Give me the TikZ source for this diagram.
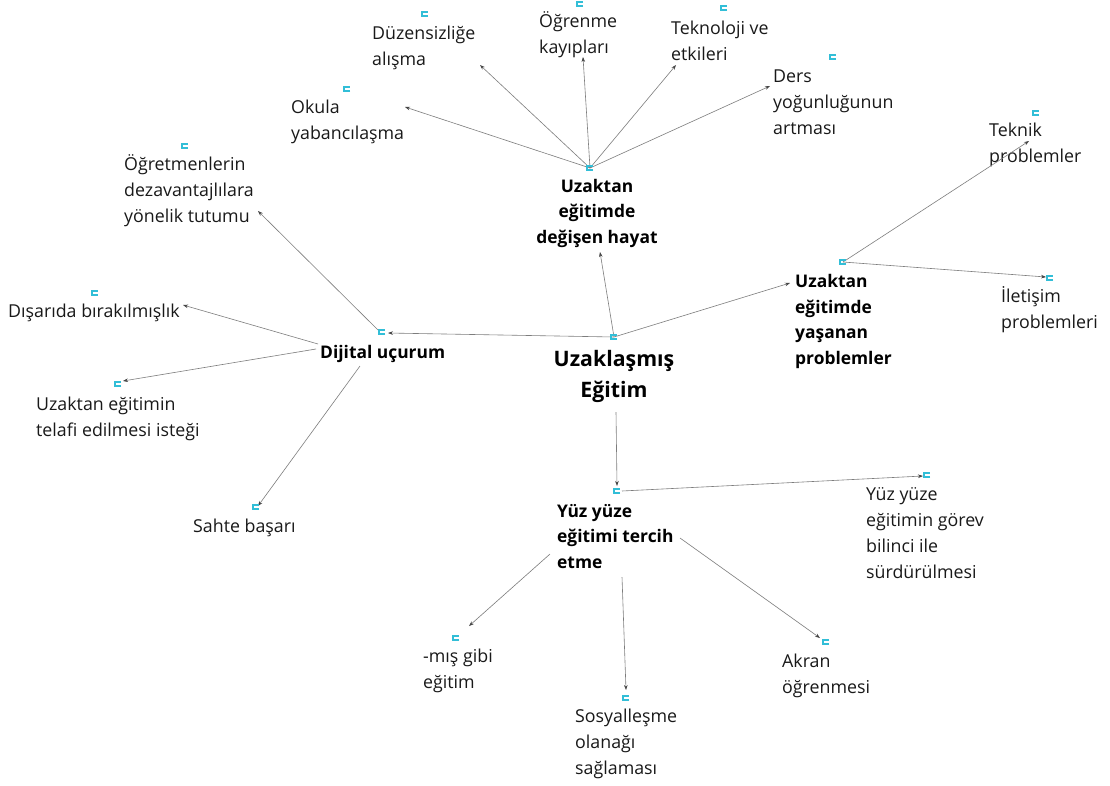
\documentclass[tikz,border=0pt]{standalone}
\usepackage{fontspec}
\setmainfont{Open Sans}
\usetikzlibrary{arrows.meta}
\definecolor{iconcol}{RGB}{50,190,215}
\definecolor{linkcol}{RGB}{125,125,125}
\definecolor{tipcol}{RGB}{70,70,70}
\tikzset{
  % text nodes are placed by the baseline of their last line
  leaf/.style={anchor=base west, inner sep=0pt, align=left,
    font=\fontsize{17.8}{26}\selectfont, text=black!90},
  hub/.style={inner sep=0pt, font=\fontsize{17.4}{25.5}\selectfont\bfseries, text=black},
  title/.style={anchor=base, inner sep=0pt, align=center,
    font=\fontsize{21.3}{31}\selectfont\bfseries, text=black},
  link/.style={draw=linkcol, line width=0.6pt,
    -{Stealth[length=5pt,width=3.6pt,color=tipcol]}},
  codeicon/.style={draw=iconcol, line width=1.1pt},
}
% small code marker drawn around a named coordinate
\newcommand{\codemark}[1]{%
  \draw[codeicon] ([shift={(3,2)}]#1) -- ++(-6,0) -- ++(0,-4) -- ++(6,0);}
\begin{document}
\begin{tikzpicture}[x=1pt,y=-1pt]
\useasboundingbox[fill=white] (0,0) rectangle (1110,785);

% ---- central theme
\node[title] (main) at (614,397) {Uzaklaşmış\\Eğitim};
\coordinate (mainI) at (614,337);
\coordinate (mainB) at (616,412);

% ---- main categories
\node[hub, anchor=base, align=center] (hayat) at (597,243) {Uzaktan\\eğitimde\\değişen hayat};
\coordinate (hayatI) at (590,168);
\coordinate (hayatB) at (600,252);

\node[hub, anchor=base west, align=left] (dijital) at (320,358) {Dijital uçurum};
\coordinate (dijitalI) at (382,332);

\node[hub, anchor=base west, align=left] (sorun) at (795,364) {Uzaktan\\eğitimde\\yaşanan\\problemler};
\coordinate (sorunI) at (843,262);
\coordinate (sorunT) at (790,283);

\node[hub, anchor=base west, align=left] (yuz) at (557,568) {Yüz yüze\\eğitimi tercih\\etme};
\coordinate (yuzI) at (617,491);

% ---- sub-codes of "değişen hayat"
\node[leaf] (okula) at (291,139) {Okula\\yabancılaşma};
\coordinate (okulaI) at (347,89);
\node[leaf] (duzen) at (372,65) {Düzensizliğe\\alışma};
\coordinate (duzenI) at (425,14);
\node[leaf] (ogren) at (539,53) {Öğrenme\\kayıpları};
\coordinate (ogrenI) at (580,4);
\node[leaf] (tekno) at (671,60) {Teknoloji ve\\etkileri};
\coordinate (teknoI) at (724,8);
\node[leaf] (ders) at (773,134) {Ders\\yoğunluğunun\\artması};
\coordinate (dersI) at (833,57);

% ---- sub-codes of "yaşanan problemler"
\node[leaf] (teknik) at (989,162) {Teknik\\problemler};
\coordinate (teknikI) at (1036,113);
\node[leaf] (iletisim) at (1001,328) {İletişim\\problemleri};
\coordinate (iletisimI) at (1050,278);

% ---- sub-codes of "Dijital uçurum"
\node[leaf] (ogret) at (124,222) {Öğretmenlerin\\dezavantajlılara\\yönelik tutumu};
\coordinate (ogretI) at (185,146);
\node[leaf] (disar) at (8,317) {Dışarıda bırakılmışlık};
\coordinate (disarI) at (95,293);
\node[leaf] (telafi) at (36,436) {Uzaktan eğitimin\\telafi edilmesi isteği};
\coordinate (telafiI) at (118,384);
\node[leaf] (sahte) at (193,532) {Sahte başarı};
\coordinate (sahteI) at (256,507);

% ---- sub-codes of "Yüz yüze eğitimi tercih etme"
\node[leaf] (gorev) at (866,578) {Yüz yüze\\eğitimin görev\\bilinci ile\\sürdürülmesi};
\coordinate (gorevI) at (927,475);
\node[leaf] (gibi) at (423,688) {-mış gibi\\eğitim};
\coordinate (gibiI) at (456,638);
\node[leaf] (sosyal) at (575,774) {Sosyalleşme\\olanağı\\sağlaması};
\coordinate (sosyalI) at (626,698);
\node[leaf] (akran) at (782,693) {Akran\\öğrenmesi};
\coordinate (akranI) at (826,642);

% ---- links from the central theme
\draw[link] (mainI) -- (hayatB);
\draw[link] (mainI) -- ([shift={(6,1)}]dijitalI);
\draw[link] (mainI) -- (sorunT);
\draw[link] (mainB) -- ([shift={(0,-5)}]yuzI);

% ---- links of "değişen hayat"
\draw[link] (hayatI) -- (405,107);
\draw[link] (hayatI) -- (480,65);
\draw[link] (hayatI) -- (583,57);
\draw[link] (hayatI) -- (676,65);
\draw[link] (hayatI) -- (770,86);

% ---- links of "yaşanan problemler"
\draw[link] (sorunI) -- (1029,141);
\draw[link] (sorunI) -- (1046,277);

% ---- links of "Dijital uçurum"
\draw[link] ([shift={(-4,-2)}]dijitalI) -- (258,211);
\draw[link] (318,344) -- (183,305);
\draw[link] (316,349) -- (123,381);
\draw[link] (360,366) -- (258,506);

% ---- links of "Yüz yüze eğitimi tercih etme"
\draw[link] ([shift={(5,0)}]yuzI) -- (923,476);
\draw[link] (550,554) -- (469,626);
\draw[link] (622,577) -- (626,690);
\draw[link] (680,538) -- (820,638);

% ---- code icons, on top of the links
\foreach \c in {mainI,hayatI,dijitalI,sorunI,yuzI,okulaI,duzenI,ogrenI,teknoI,dersI,
  teknikI,iletisimI,ogretI,disarI,telafiI,sahteI,gorevI,gibiI,sosyalI,akranI}
  {\codemark{\c}}
\end{tikzpicture}
\end{document}
